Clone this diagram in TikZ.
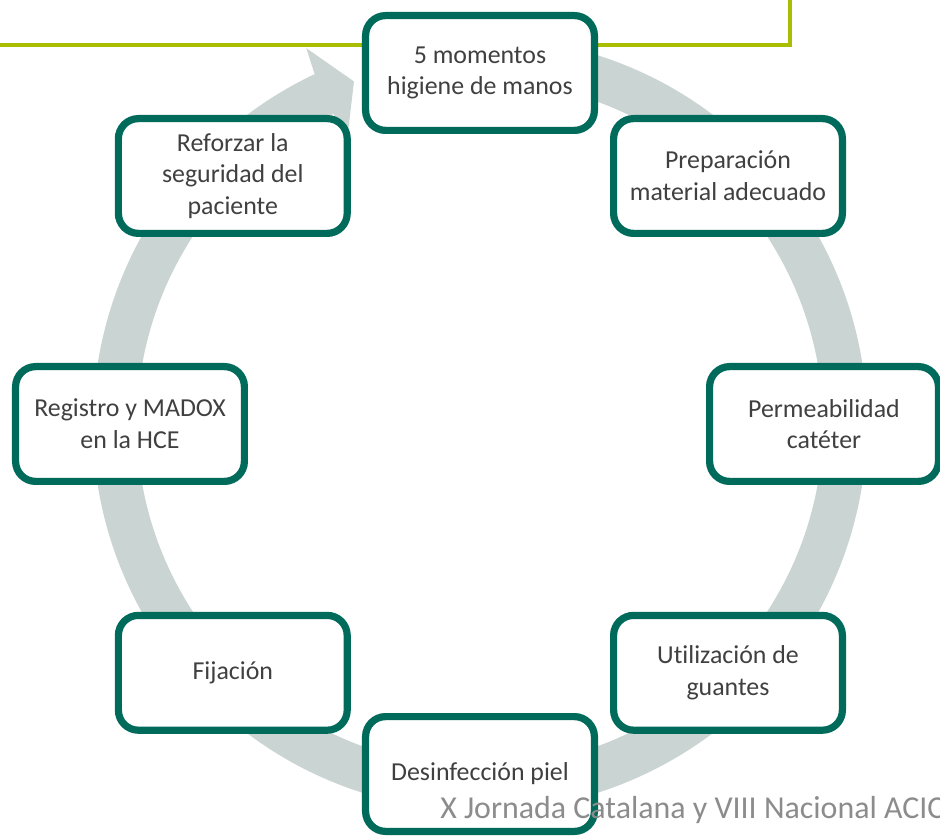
\documentclass[tikz,border=0pt]{standalone}
\usepackage{fontspec}
\setmainfont{Carlito}[Ligatures=CommonOff]
\usetikzlibrary{shadows}
\definecolor{boxline}{HTML}{006A5B}
\definecolor{ringgray}{HTML}{CAD5D3}
\definecolor{olive}{HTML}{A9BE00}
\definecolor{textgray}{HTML}{404040}
\definecolor{footgray}{HTML}{8C8C8C}

\begin{document}
\begin{tikzpicture}[
  stepbox/.style={rectangle,rounded corners=0.5cm,draw=boxline,line width=0.18cm,fill=white,
    minimum width=5.72cm,minimum height=2.87cm,align=center,text=textgray,
    font=\fontsize{18.4}{22.5}\selectfont,
    drop shadow={opacity=0.2,shadow xshift=0.04cm,shadow yshift=-0.07cm}},
  ring/.style={fill=ringgray},
  frame/.style={draw=olive,line width=0.12cm},
  foot/.style={text=footgray,inner sep=0pt,font=\fontsize{22.7}{27}\selectfont}
]
\useasboundingbox (-12,-10.3) rectangle (11.5,10.6);

\fill[ring] (80:9.675) arc[start angle=80,end angle=-244.7,radius=9.675]
  -- (-245.2:10.35) -- (-249.8:9.125) -- (-245.2:7.9) -- (-244.7:8.575)
  arc[start angle=-244.7,end angle=80,radius=8.575] -- cycle;

\coordinate (fw) at (-12.1,9.475);
\coordinate (fn) at (7.75,10.7);
\draw[frame] (fw) -| (fn);

\node[stepbox] (mom) at (0,8.775) {5 momentos\\higiene de manos};
\node[stepbox] (prep) at (6.2,6.2) {Preparación\\material adecuado};
\node[stepbox] (perm) at (8.6,0) {Permeabilidad\\catéter};
\node[stepbox] (guan) at (6.2,-6.22) {Utilización de\\guantes};
\node[stepbox] (desi) at (0,-8.75) {Desinfección piel};
\node[stepbox] (fija) at (-6.18,-6.22) {Fijación};
\node[stepbox] (regi) at (-8.75,0) {Registro y MADOX\\en la HCE};
\node[stepbox] (refo) at (-6.18,6.2) {Reforzar la\\seguridad del\\paciente};

\node[foot,anchor=base west] (jorn) at (-1.0,-9.85) {X Jornada Catalana y VIII Nacional ACIC};
\end{tikzpicture}
\end{document}
